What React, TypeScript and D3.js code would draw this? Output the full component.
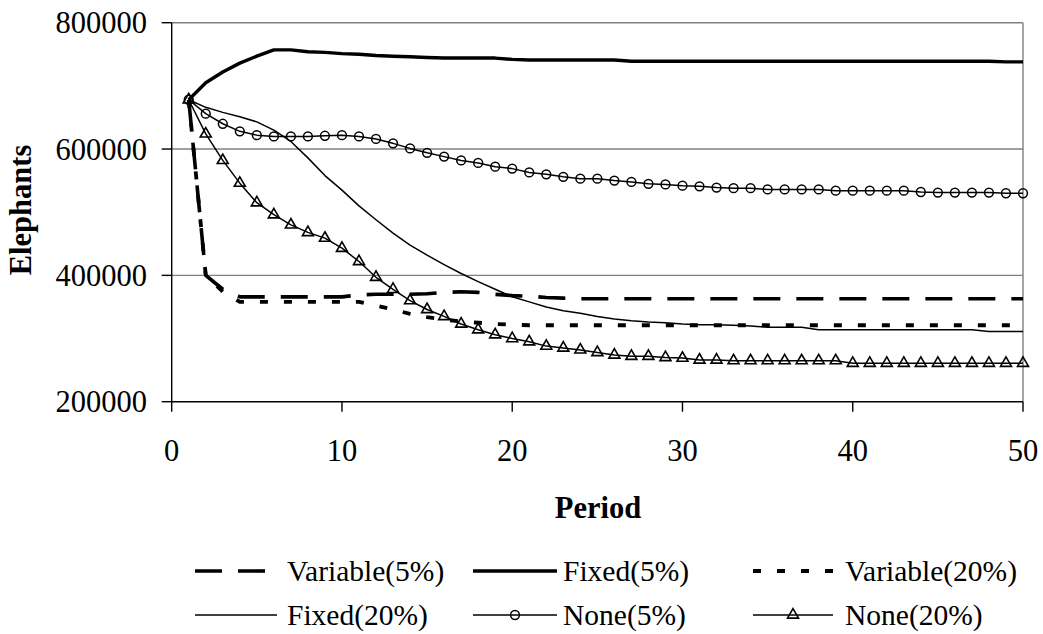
import React from "react";
import * as d3 from "d3";

const periods = [
  1, 2, 3, 4, 5, 6, 7, 8, 9, 10, 11, 12, 13, 14, 15, 16, 17, 18, 19, 20, 21, 22, 23, 24, 25,
  26, 27, 28, 29, 30, 31, 32, 33, 34, 35, 36, 37, 38, 39, 40, 41, 42, 43, 44, 45, 46, 47, 48, 49, 50,
];

const variable5 = [
  678000, 400000, 378000, 366000, 366000, 366000, 366000, 366000, 366000, 366000,
  369000, 370000, 370000, 370000, 371000, 373000, 374000, 373000, 370000, 368000,
  367000, 365000, 364000, 363000, 363000, 363000, 363000, 363000, 363000, 363000,
  363000, 363000, 363000, 363000, 363000, 363000, 363000, 363000, 363000, 363000,
  363000, 363000, 363000, 363000, 363000, 363000, 363000, 363000, 363000, 363000,
];

const fixed5 = [
  678000, 705000, 722000, 736000, 747000, 757000, 757000, 754000, 753000, 751000,
  750000, 748000, 747000, 746000, 745000, 744000, 744000, 744000, 744000, 742000,
  741000, 741000, 741000, 741000, 741000, 741000, 739000, 739000, 739000, 739000,
  739000, 739000, 739000, 739000, 739000, 739000, 739000, 739000, 739000, 739000,
  739000, 739000, 739000, 739000, 739000, 739000, 739000, 739000, 738000, 738000,
];

const variable20 = [
  678000, 400000, 374000, 358000, 358000, 358000, 358000, 358000, 358000, 358000,
  358000, 352000, 346000, 339000, 334000, 330000, 327000, 325000, 323000, 322000,
  321000, 321000, 321000, 321000, 321000, 321000, 321000, 321000, 321000, 321000,
  321000, 321000, 321000, 321000, 321000, 321000, 321000, 321000, 321000, 321000,
  321000, 321000, 321000, 321000, 321000, 321000, 321000, 321000, 321000, 321000,
];

const fixed20 = [
  678000, 666000, 658000, 651000, 643000, 630000, 612000, 586000, 558000, 535000,
  510000, 488000, 467000, 448000, 432000, 417000, 403000, 390000, 378000, 366000,
  358000, 350000, 344000, 340000, 335000, 331000, 328000, 326000, 325000, 323000,
  322000, 322000, 321000, 320000, 318000, 318000, 318000, 314000, 314000, 314000,
  314000, 314000, 314000, 314000, 314000, 314000, 314000, 311000, 311000, 311000,
];

const none5 = [
  678000, 656000, 640000, 628000, 622000, 620000, 620000, 620000, 621000, 622000,
  620000, 616000, 609000, 601000, 594000, 588000, 582000, 578000, 572000, 569000,
  563000, 560000, 556000, 553000, 553000, 550000, 548000, 545000, 544000, 542000,
  541000, 539000, 538000, 538000, 536000, 536000, 536000, 536000, 534000, 534000,
  534000, 534000, 534000, 532000, 531000, 531000, 531000, 531000, 530000, 530000,
];

const none20 = [
  678000, 624000, 582000, 546000, 515000, 496000, 480000, 468000, 459000, 443000,
  422000, 397000, 378000, 360000, 346000, 335000, 323000, 314000, 306000, 300000,
  295000, 288000, 285000, 282000, 278000, 274000, 272000, 272000, 270000, 269000,
  266000, 266000, 265000, 265000, 265000, 265000, 265000, 265000, 265000, 261000,
  261000, 261000, 261000, 261000, 261000, 261000, 261000, 261000, 261000, 261000,
];

const xTicks = [0, 10, 20, 30, 40, 50];
const yTicks = [200000, 400000, 600000, 800000];

type Series = {
  name: string;
  values: number[];
  width: number;
  dash?: string;
  marker?: "circle" | "triangle";
};

const series: Series[] = [
  { name: "Variable(5%)", values: variable5, width: 3.6, dash: "27,16" },
  { name: "Fixed(5%)", values: fixed5, width: 3.4 },
  { name: "Variable(20%)", values: variable20, width: 3.8, dash: "8,16" },
  { name: "Fixed(20%)", values: fixed20, width: 1.5 },
  { name: "None(5%)", values: none5, width: 1.5, marker: "circle" },
  { name: "None(20%)", values: none20, width: 1.5, marker: "triangle" },
];

const W = 1043;
const H = 634;
const FONT = "'Liberation Serif', 'Times New Roman', serif";

const x = d3.scaleLinear().domain([0, 50]).range([171.7, 1023]);
const y = d3.scaleLinear().domain([200000, 800000]).range([401.7, 22.7]);

const tri = d3.symbol(d3.symbolTriangle, 52)()!;

function Marker({ kind, cx, cy }: { kind?: string; cx: number; cy: number }) {
  if (kind === "circle")
    return <circle cx={cx} cy={cy} r={4.4} fill="none" stroke="#000" strokeWidth={1.5} />;
  if (kind === "triangle")
    return (
      <path d={tri} transform={`translate(${cx},${cy})`} fill="none" stroke="#000" strokeWidth={1.6} />
    );
  return null;
}

const legendCols = [
  { x0: 195, x1: 277, tx: 287 },
  { x0: 473, x1: 557, tx: 563 },
  { x0: 753, x1: 833, tx: 845 },
];
const legendRows = [571, 615];

export default function App() {
  const line = d3
    .line<number>()
    .x((_, i) => x(periods[i]))
    .y((d) => y(d));

  return (
    <svg
      width={W}
      height={H}
      style={{ position: "absolute", left: 0, top: 0, background: "#fff" }}
      fontFamily={FONT}
    >
      <rect width={W} height={H} fill="#fff" />
      {/* grid + frame */}
      {yTicks.slice(1).map((t) => (
        <line key={t} x1={x(0)} x2={x(50)} y1={y(t)} y2={y(t)} stroke="#808080" strokeWidth={1.4} />
      ))}
      <line x1={x(50)} x2={x(50)} y1={y(800000)} y2={y(200000)} stroke="#808080" strokeWidth={1.4} />

      {/* axes */}
      <line x1={x(0)} x2={x(0)} y1={y(800000)} y2={y(200000)} stroke="#000" strokeWidth={1.4} />
      <line x1={x(0)} x2={x(50)} y1={y(200000)} y2={y(200000)} stroke="#000" strokeWidth={1.4} />
      {yTicks.map((t) => (
        <g key={t}>
          <line x1={x(0) - 10} x2={x(0)} y1={y(t)} y2={y(t)} stroke="#000" strokeWidth={1.4} />
          <text x={147} y={y(t)} dy="0.35em" textAnchor="end" fontSize={30.5}>
            {t}
          </text>
        </g>
      ))}
      {xTicks.map((t) => (
        <g key={t}>
          <line x1={x(t)} x2={x(t)} y1={y(200000)} y2={y(200000) + 10} stroke="#000" strokeWidth={1.4} />
          <text x={x(t)} y={450} dy="0.35em" textAnchor="middle" fontSize={30.5}>
            {t}
          </text>
        </g>
      ))}

      <text
        transform="translate(20,210) rotate(-90)"
        dy="0.35em"
        textAnchor="middle"
        fontSize={30.5}
        fontWeight="bold"
      >
        Elephants
      </text>
      <text x={598} y={507} dy="0.35em" textAnchor="middle" fontSize={30.5} fontWeight="bold">
        Period
      </text>

      {/* series */}
      {series.map((s) => (
        <g key={s.name}>
          <path
            d={line(s.values) || ""}
            fill="none"
            stroke="#000"
            strokeWidth={s.width}
            strokeDasharray={s.dash}
            strokeLinejoin="round"
          />
          {s.marker &&
            s.values.map((v, i) => <Marker key={i} kind={s.marker} cx={x(periods[i])} cy={y(v)} />)}
        </g>
      ))}

      {/* legend */}
      {series.map((s, i) => {
        const col = legendCols[i % 3];
        const ly = legendRows[Math.floor(i / 3)];
        return (
          <g key={s.name}>
            <line
              x1={col.x0}
              x2={col.x1}
              y1={ly}
              y2={ly}
              stroke="#000"
              strokeWidth={s.marker ? 1.5 : s.width}
              strokeDasharray={s.dash}
            />
            <Marker kind={s.marker} cx={(col.x0 + col.x1) / 2} cy={ly} />
            <text x={col.tx} y={ly} dy="0.35em" fontSize={29.5}>
              {s.name}
            </text>
          </g>
        );
      })}
    </svg>
  );
}
